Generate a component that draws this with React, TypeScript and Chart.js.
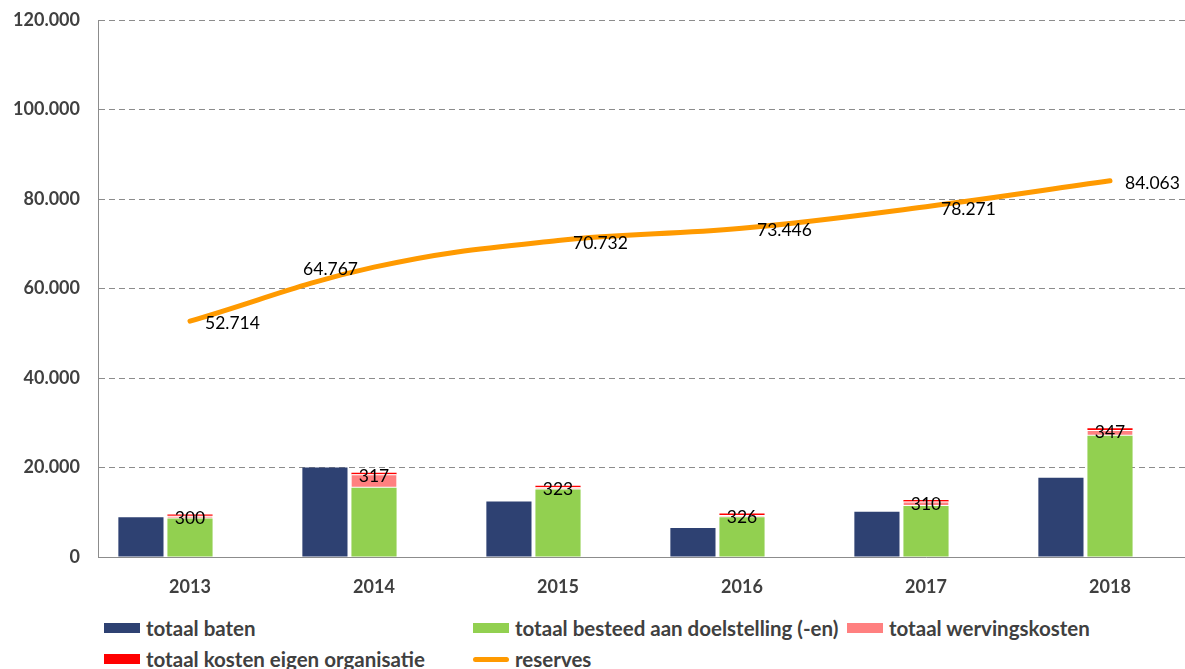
import React, { useEffect, useRef } from 'react';
import { Chart, registerables } from 'chart.js';

Chart.register(...registerables);

const years = ['2013', '2014', '2015', '2016', '2017', '2018'];
const totaalBaten = [8900, 20000, 12400, 6500, 10100, 17700];
const besteedDoelstelling = [8600, 15500, 15100, 8900, 11400, 27100];
const wervingskosten = [600, 3000, 500, 500, 1000, 1300];
const kostenEigenOrganisatie = [300, 317, 323, 326, 310, 347];
const reserves = [52714, 64767, 70732, 73446, 78271, 84063];
const yMin = 0;
const yMax = 120000;
const yStep = 20000;

const seriesNames = [
  'totaal baten',
  'totaal besteed aan doelstelling (-en)',
  'totaal wervingskosten',
  'totaal kosten eigen organisatie',
  'reserves',
];
const seriesColors = ['#2e4172', '#92d050', '#ff8080', '#ff0000', '#ff9a00'];

const FONT = 'Lato, "Open Sans", sans-serif';
const fmt = (v: number) => String(Math.round(v)).replace(/\B(?=(\d{3})+(?!\d))/g, '.');

export default function App() {
  const ref = useRef<HTMLCanvasElement>(null);

  useEffect(() => {
    if (!ref.current) return;
    const labelPlugin = {
      id: 'valueLabels',
      afterDraw(chart: any) {
        const ctx = chart.ctx;
        ctx.save();
        ctx.font = `17.5px ${FONT}`;
        ctx.fillStyle = '#000';
        ctx.textBaseline = 'middle';
        ctx.textAlign = 'center';
        const redMeta = chart.getDatasetMeta(3);
        redMeta.data.forEach((el: any, i: number) => {
          ctx.fillText(String(kostenEigenOrganisatie[i]), el.x, el.y + 4);
        });
        const lineMeta = chart.getDatasetMeta(5);
        lineMeta.data.forEach((el: any, i: number) => {
          const leftSide = i === 1;
          ctx.textAlign = leftSide ? 'right' : 'left';
          ctx.fillText(fmt(reserves[i]), leftSide ? el.x - 16 : el.x + 15, el.y + 2.5);
        });
        ctx.restore();
      },
    };

    const chart = new Chart(ref.current, {
      type: 'bar',
      data: {
        labels: years,
        datasets: [
          {
            label: seriesNames[0],
            data: totaalBaten,
            backgroundColor: seriesColors[0],
            stack: 'a',
            order: 2,
          },
          {
            label: seriesNames[1],
            data: besteedDoelstelling,
            backgroundColor: seriesColors[1],
            stack: 'b',
            order: 2,
          },
          {
            label: seriesNames[2],
            data: wervingskosten,
            backgroundColor: seriesColors[2],
            borderColor: '#ffffff',
            borderWidth: { top: 1, bottom: 1, left: 0, right: 0 },
            borderSkipped: false,
            stack: 'b',
            order: 2,
          },
          {
            label: seriesNames[3],
            data: kostenEigenOrganisatie,
            backgroundColor: seriesColors[3],
            stack: 'b',
            order: 2,
          },
          {
            label: '',
            data: years.map(() => 0),
            backgroundColor: 'rgba(0,0,0,0)',
            stack: 'c',
            order: 2,
          },
          {
            type: 'line',
            label: seriesNames[4],
            data: reserves,
            borderColor: seriesColors[4],
            backgroundColor: seriesColors[4],
            borderWidth: 5,
            borderCapStyle: 'round',
            pointRadius: 0,
            tension: 0.4,
            fill: false,
            order: 1,
          },
        ] as any,
      },
      options: {
        animation: false,
        responsive: false,
        layout: { padding: { left: 0, top: 20, right: 13, bottom: 0 } },
        datasets: {
          bar: { categoryPercentage: 0.8, barPercentage: 0.92 },
        },
        plugins: {
          legend: { display: false },
          tooltip: { enabled: false },
        },
        scales: {
          x: {
            grid: { display: false },
            border: { display: true, color: '#8c8c8c', width: 1 },
            ticks: {
              color: '#404040',
              font: { family: FONT, size: 18, weight: 'bold' },
              padding: 11,
            },
            afterFit(scale: any) {
              scale.height = 53;
            },
          },
          y: {
            stacked: true,
            min: yMin,
            max: yMax,
            grid: {
              color: '#8c8c8c',
              lineWidth: 1,
              drawTicks: true,
              tickLength: 18,
              tickColor: 'rgba(0,0,0,0)',
            },
            border: { display: true, color: '#8c8c8c', width: 1, dash: [6, 4] },
            ticks: {
              stepSize: yStep,
              color: '#404040',
              font: { family: FONT, size: 18, weight: 'bold' },
              padding: 0,
              callback: (v: any) => fmt(Number(v)),
            },
            afterFit(scale: any) {
              scale.width = 98;
            },
          },
        },
      } as any,
      plugins: [labelPlugin],
    });
    return () => chart.destroy();
  }, []);

  const legendCols = [104, 473, 847];
  const legendRows = [628, 659];
  const items = seriesNames.map((name, i) => ({
    name,
    color: seriesColors[i],
    line: i === 4,
    left: legendCols[i % 3],
    top: legendRows[Math.floor(i / 3)],
  }));

  return (
    <div
      style={{
        position: 'absolute',
        left: 0,
        top: 0,
        width: 1185,
        height: 669,
        overflow: 'hidden',
        background: '#ffffff',
      }}
    >
      <canvas ref={ref} width={1215} height={610} style={{ display: 'block' }} />
      {items.map((it) => (
        <div
          key={it.name}
          style={{
            position: 'absolute',
            left: it.left,
            top: it.top - 14,
            height: 28,
            display: 'flex',
            alignItems: 'center',
            whiteSpace: 'nowrap',
            fontFamily: FONT,
            fontWeight: 'bold',
            fontSize: 20.5,
            color: '#404040',
          }}
        >
          <span
            style={{
              display: 'inline-block',
              width: 36,
              height: it.line ? 5 : 10,
              borderRadius: it.line ? 3 : 0,
              background: it.color,
              marginRight: 6,
            }}
          />
          <span>{it.name}</span>
        </div>
      ))}
    </div>
  );
}
